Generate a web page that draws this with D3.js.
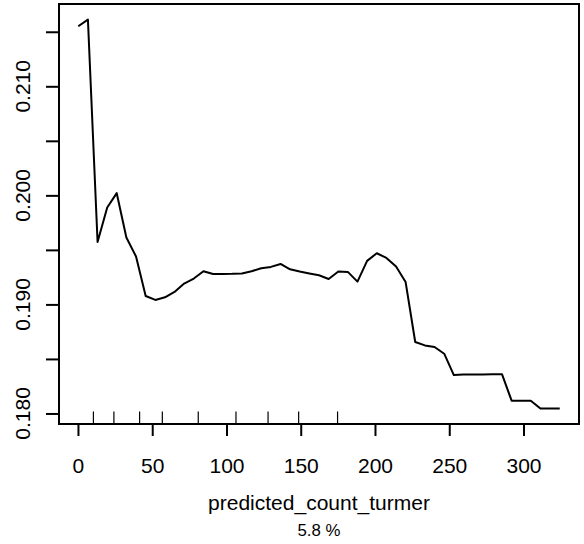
<!DOCTYPE html>
<html><head><meta charset="utf-8">
<script src="https://cdn.jsdelivr.net/npm/d3@7"></script>
<style>body{margin:0;background:#fff}svg{display:block}text{font-family:"Liberation Sans",Arial,sans-serif}</style>
</head><body>
<svg id="c" width="584" height="544"></svg>
<script>
const xValues = [0.2,6.7,13.2,19.7,26.1,32.6,39.1,45.6,52.1,58.6,65.0,71.5,78.0,84.5,91.0,97.5,103.9,110.4,116.9,123.4,129.9,136.4,142.8,149.3,155.8,162.3,168.8,175.3,181.7,188.2,194.7,201.2,207.7,214.2,220.6,227.1,233.6,240.1,246.6,253.1,259.5,266.0,272.5,279.0,285.5,292.0,298.4,304.9,311.4,317.9,324.4];
const yValues = [0.21551,0.21612,0.19573,0.19889,0.20020,0.19614,0.19439,0.19077,0.19041,0.19065,0.19114,0.19191,0.19237,0.19304,0.19279,0.19279,0.19280,0.19284,0.19304,0.19332,0.19344,0.19371,0.19322,0.19301,0.19283,0.19267,0.19233,0.19301,0.19298,0.19209,0.19399,0.19469,0.19426,0.19347,0.19206,0.18655,0.18624,0.18609,0.18548,0.18352,0.18358,0.18358,0.18358,0.18359,0.18360,0.18117,0.18117,0.18117,0.18046,0.18046,0.18046];
const rugValues = [10.4,24.2,41.5,56.8,81.0,106.4,128.0,148.6,174.8];
const xTicks = [0,50,100,150,200,250,300];
const yTicks = [0.180,0.185,0.190,0.195,0.200,0.205,0.210,0.215];
const yLabelTicks = [0.180,0.190,0.200,0.210];
const xTitle = "predicted_count_turmer";
const subTitle = "5.8 %";

const L=59,R=579,T=4,B=424;
const svg=d3.select("#c");
const xmin=d3.min(xValues),xmax=d3.max(xValues),ymin=d3.min(yValues),ymax=d3.max(yValues);
const dx=(xmax-xmin)*0.04, dy=(ymax-ymin)*0.04;
const x=d3.scaleLinear().domain([xmin-dx,xmax+dx]).range([L,R]);
const y=d3.scaleLinear().domain([ymin-dy,ymax+dy]).range([B,T]);
const fs=21;

// x axis
const gx=svg.append("g").attr("transform",`translate(0,${B})`)
  .call(d3.axisBottom(x).tickValues(xTicks).tickSize(12).tickPadding(22).tickFormat(d3.format("d")));
gx.select(".domain").remove();
gx.selectAll("line").attr("stroke","#000").attr("stroke-width",2);
gx.selectAll("text").attr("font-size",fs).attr("fill","#000");

// y axis
const gy=svg.append("g").attr("transform",`translate(${L},0)`)
  .call(d3.axisLeft(y).tickValues(yTicks).tickSize(13).tickFormat(""));
gy.select(".domain").remove();
gy.selectAll("line").attr("stroke","#000").attr("stroke-width",2);
gy.selectAll("text").remove();
svg.append("g").selectAll("text").data(yLabelTicks).join("text")
  .attr("transform",d=>`translate(30,${y(d)}) rotate(-90)`)
  .attr("text-anchor","middle").attr("font-size",fs).attr("fill","#000")
  .text(d=>d3.format(".3f")(d));

// rug
svg.append("g").selectAll("line").data(rugValues).join("line")
  .attr("x1",d=>x(d)).attr("x2",d=>x(d)).attr("y1",B).attr("y2",B-12.5)
  .attr("stroke","#000").attr("stroke-width",1.2);

// line
svg.append("path").datum(xValues.map((v,i)=>[v,yValues[i]]))
  .attr("d",d3.line().x(d=>x(d[0])).y(d=>y(d[1])))
  .attr("fill","none").attr("stroke","#000").attr("stroke-width",2).attr("stroke-linejoin","round");

// box
svg.append("rect").attr("x",L).attr("y",T).attr("width",R-L).attr("height",B-T)
  .attr("fill","none").attr("stroke","#000").attr("stroke-width",2);

svg.append("text").attr("x",(L+R)/2).attr("y",510).attr("text-anchor","middle").attr("font-size",fs).text(xTitle);
svg.append("text").attr("x",(L+R)/2).attr("y",536).attr("text-anchor","middle").attr("font-size",fs*0.8).text(subTitle);
</script>
</body></html>
